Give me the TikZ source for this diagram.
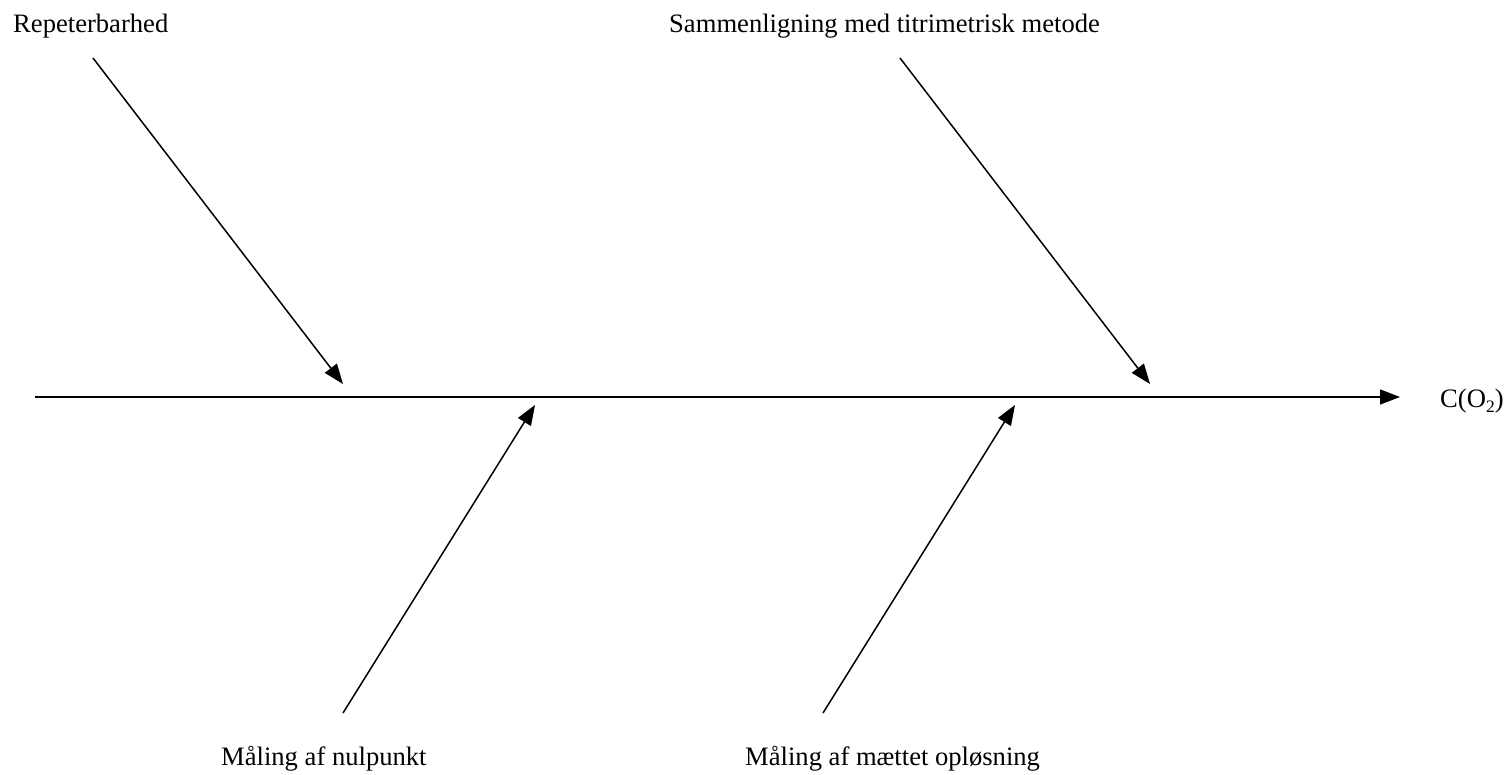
\documentclass[tikz,border=0pt]{standalone}
\usepackage{fontspec}
\setmainfont{Liberation Serif}
\usetikzlibrary{arrows.meta}
\newcommand{\mysub}[1]{\raisebox{-5pt}{\fontsize{17.5}{18}\selectfont #1}}
\begin{document}
\begin{tikzpicture}[x=1pt,y=-1pt,
  lbl/.style={anchor=base west,inner sep=0pt,font=\fontsize{26.6}{32}\selectfont},
  bone/.style={line width=1.5pt,-{Triangle[length=20pt,width=15pt]}}]
\useasboundingbox (0,0) rectangle (1510,774);
% labels
\node[lbl] (rep) at (13,32) {Repeterbarhed};
\node[lbl] (sam) at (669,32) {Sammenligning med titrimetrisk metode};
\node[lbl] (nul) at (221,765) {Måling af nulpunkt};
\node[lbl] (mae) at (745,765) {Måling af mættet opløsning};
\node[lbl] (co) at (1440,407) {C(O\mysub{2})};
% spine
\coordinate (s0) at (35,397);
\coordinate (s1) at (1400,397);
\draw[bone] (s0) -- (s1);
% bones
\coordinate (a0) at (93,58);   \coordinate (a1) at (343,384);
\coordinate (b0) at (900,58);  \coordinate (b1) at (1150,384);
\coordinate (c0) at (343,713); \coordinate (c1) at (535,405);
\coordinate (d0) at (823,713); \coordinate (d1) at (1015,405);
\draw[bone] (a0) -- (a1);
\draw[bone] (b0) -- (b1);
\draw[bone] (c0) -- (c1);
\draw[bone] (d0) -- (d1);
\end{tikzpicture}
\end{document}
